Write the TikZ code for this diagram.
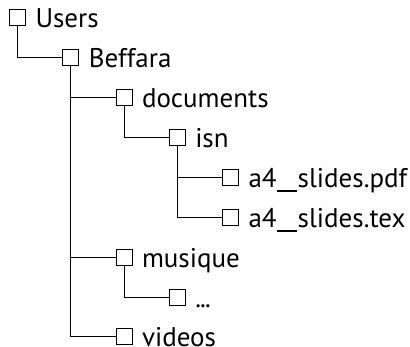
\documentclass[tikz,border=0pt]{standalone}
\usepackage{fontspec}
\setmainfont{PT Sans}
\newcommand\wideus{\kern0.03em\rule[-0.16em]{0.72em}{0.065em}\kern0.03em}
\begin{document}
\begin{tikzpicture}[x=1pt,y=-1pt,
  fbox/.style={draw, line width=0.9pt, minimum size=16pt, inner sep=0pt, outer sep=0pt},
  flabel/.style={anchor=base west, inner sep=0pt, outer sep=0pt, font=\fontsize{27}{32}\selectfont},
  link/.style={line width=0.9pt}]
\useasboundingbox (0,0) rectangle (410,346);
% boxes
\node[fbox] (users) at (17.5,17) {};
\node[fbox] (beff)  at (70.75,57) {};
\node[fbox] (docs)  at (124,97) {};
\node[fbox] (isn)   at (177.25,137) {};
\node[fbox] (pdf)   at (230.5,177) {};
\node[fbox] (tex)   at (230.5,217) {};
\node[fbox] (mus)   at (124,257) {};
\node[fbox] (dots)  at (177.25,297) {};
\node[fbox] (vid)   at (124,336.5) {};
% labels
\node[flabel] (lusers) at ([shift={(18,10.3)}]users.center) {Users};
\node[flabel] (lbeff)  at ([shift={(18,10.3)}]beff.center) {Beffara};
\node[flabel] (ldocs)  at ([shift={(18,10.3)}]docs.center) {documents};
\node[flabel] (lisn)   at ([shift={(18,10.3)}]isn.center) {isn};
\node[flabel] (lpdf)   at ([shift={(18,10.3)}]pdf.center) {a4\wideus slides.pdf};
\node[flabel] (ltex)   at ([shift={(18,10.3)}]tex.center) {a4\wideus slides.tex};
\node[flabel] (lmus)   at ([shift={(18,10.3)}]mus.center) {musique};
\node[flabel] (ldots)  at ([shift={(18,10.3)}]dots.center) {.\kern-0.03em.\kern-0.03em.};
\node[flabel] (lvid)   at ([shift={(18,10.3)}]vid.center) {videos};
% connectors
\draw[link] (users.south) |- (beff.west);
\draw[link] (beff.south) |- (docs.west);
\draw[link] (beff.south) |- (mus.west);
\draw[link] (beff.south) |- (vid.west);
\draw[link] (docs.south) |- (isn.west);
\draw[link] (isn.south) |- (pdf.west);
\draw[link] (isn.south) |- (tex.west);
\draw[link] (mus.south) |- (dots.west);
\end{tikzpicture}
\end{document}
